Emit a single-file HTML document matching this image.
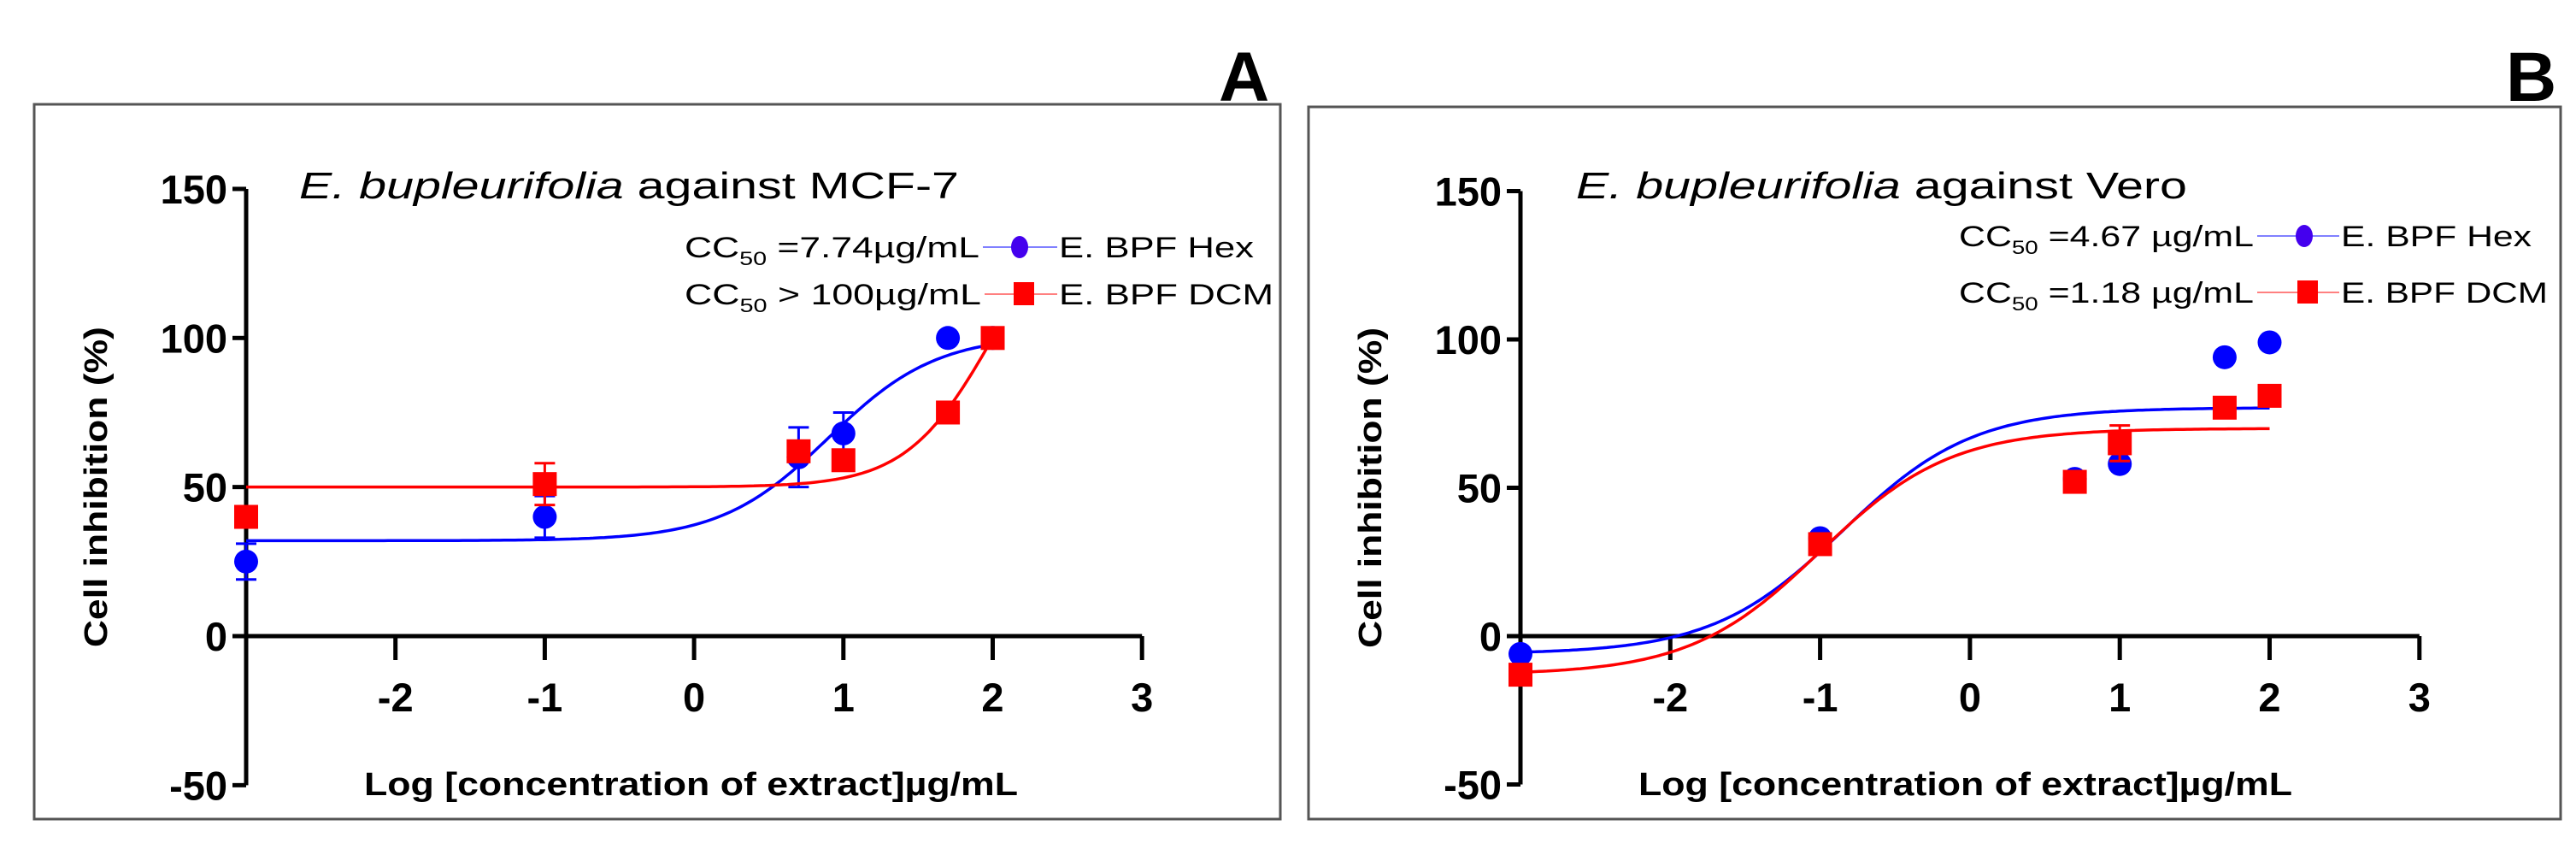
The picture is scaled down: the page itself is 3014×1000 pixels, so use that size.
<!DOCTYPE html>
<html><head><meta charset="utf-8"><style>
html,body{margin:0;padding:0;background:#fff}
svg{display:block}
text{font-family:"Liberation Sans",Arial,sans-serif}
</style></head><body>
<svg id="chart" width="3014" height="1000" viewBox="0 0 3014 1000" xmlns="http://www.w3.org/2000/svg"></svg>
<script>
const xTicks = [-2, -1, 0, 1, 2, 3];
const yTicks = [150, 100, 50, 0, -50];
const xsA = [-3, -1, 0.7, 1, 1.7, 2];
const hexA = [25, 40, 60, 68, 100, 100];
const hexAErr = [6, 7, 10, 7, 0, 0];
const dcmA = [40, 51, 62, 59, 75, 100];
const dcmAErr = [0, 7, 3, 3, 0, 0];
const xsB = [-3, -1, 0.7, 1, 1.7, 2];
const hexB = [-6, 33, 53, 58, 94, 99];
const hexBErr = [0, 0, 0, 0, 0, 0];
const dcmB = [-13, 31, 52, 65, 77, 81];
const dcmBErr = [0, 0, 0, 6, 0, 0];
// fit params: bottom, top, logEC50, hill
const fitHexA = [32, 101, 0.9, 1.2];
const fitDcmA = [50, 150, 2.0, 1.5];
const fitHexB = [-6, 77, -0.85, 1.0];
const fitDcmB = [-13, 70, -1.0, 1.0];

const NS = 'http://www.w3.org/2000/svg';
const svg = document.getElementById('chart');
function mk(tag, attrs, parent, text) {
  const e = document.createElementNS(NS, tag);
  for (const k in attrs) e.setAttribute(k, attrs[k]);
  if (text !== undefined) e.textContent = text;
  (parent || svg).appendChild(e);
  return e;
}
function sig(p, x) { return p[0] + (p[1] - p[0]) / (1 + Math.pow(10, (p[2] - x) * p[3])); }

function panel(o) {
  const g = mk('g', {});
  
  
  const X = v => o.x0 + (v + 3) * o.ux;
  const Y = v => o.y0 - v * o.uy;
  const box = mk('rect', {x: o.bx, y: o.by, width: o.bw, height: o.bh, fill: 'none', stroke: '#555', 'stroke-width': 3}, g);
  
  
  const lt = mk('text', {x: o.letterX, y: 118, 'font-size': 82, 'font-weight': 'bold'}, g, o.letter);
  
  
  const ya = mk('line', {x1: o.x0, y1: Y(150), x2: o.x0, y2: Y(-50), stroke: '#000', 'stroke-width': 5}, g);
  
  
  yTicks.forEach(t => {
    mk('line', {x1: o.x0 - 16, y1: Y(t), x2: o.x0, y2: Y(t), stroke: '#000', 'stroke-width': 5}, g);
    const tl = mk('text', {x: o.x0 - 22, y: Y(t) + 17, 'font-size': 47, 'font-weight': 'bold', 'text-anchor': 'end'}, g, String(t));
    
    
  });
  const xa = mk('line', {x1: X(-3), y1: Y(0), x2: X(3), y2: Y(0), stroke: '#000', 'stroke-width': 5}, g);
  
  
  xTicks.forEach(t => {
    mk('line', {x1: X(t), y1: Y(0), x2: X(t), y2: Y(0) + 28, stroke: '#000', 'stroke-width': 5}, g);
    const tl = mk('text', {x: X(t), y: Y(0) + 88, 'font-size': 47, 'font-weight': 'bold', 'text-anchor': 'middle'}, g, String(t));
    
    
  });
  const yt = mk('text', {x: 0, y: 0, 'font-size': 38, 'font-weight': 'bold', 'text-anchor': 'middle', textLength: 375, lengthAdjust: 'spacingAndGlyphs', transform: `translate(${o.x0 - 163},${Y(50)}) rotate(-90)`}, g, 'Cell inhibition (%)');
  
  
  const xt = mk('text', {x: o.x0 + 138, y: 930, 'font-size': 38, 'font-weight': 'bold', textLength: 765, lengthAdjust: 'spacingAndGlyphs'}, g, 'Log [concentration of extract]µg/mL');
  
  
  const ti = mk('text', {x: o.titleX, y: 232, 'font-size': 44, textLength: o.titleW, lengthAdjust: 'spacingAndGlyphs'}, g);
  
  
  mk('tspan', {'font-style': 'italic'}, ti, 'E. bupleurifolia');
  mk('tspan', {}, ti, ' against ' + o.cell);
  [[o.hex, o.hexErr, o.fitHex, '#0000ff', 'circle', 'series-hex'], [o.dcm, o.dcmErr, o.fitDcm, '#ff0000', 'square', 'series-dcm']].forEach(s => {
    const [vals, errs, fit, col, shape, nm] = s;
    const sg = mk('g', {}, g);
    
    
    let d = '';
    for (let i = 0; i <= 200; i++) {
      const xv = -3 + 5 * i / 200;
      d += (i ? 'L' : 'M') + X(xv).toFixed(1) + ',' + Y(sig(fit, xv)).toFixed(1);
    }
    const c = mk('path', {d, fill: 'none', stroke: col, 'stroke-width': 3.5}, sg);
    
    
    o.xs.forEach((xv, i) => {
      const cx = X(xv), cy = Y(vals[i]);
      if (errs[i] > 0) {
        const e1 = Y(vals[i] + errs[i]), e2 = Y(vals[i] - errs[i]);
        mk('path', {d: `M${cx},${e1}V${e2}M${cx - 12},${e1}H${cx + 12}M${cx - 12},${e2}H${cx + 12}`, stroke: col, 'stroke-width': 3, fill: 'none'}, sg);
      }
      const m = shape === 'circle'
        ? mk('ellipse', {cx, cy, rx: 14, ry: 14, fill: col}, sg)
        : mk('rect', {x: cx - 14, y: cy - 14, width: 28, height: 28, fill: col}, sg);
      
      
    });
  });
  const lg = mk('g', {}, g);
  
  
  o.leg.forEach((L, i) => {
    const by = L.y;
    const t = mk('text', {x: L.x, y: by, 'font-size': 34, textLength: L.tw, lengthAdjust: 'spacingAndGlyphs'}, lg);
    
    
    mk('tspan', {}, t, 'CC');
    mk('tspan', {'font-size': 22, dy: 9}, t, '50');
    mk('tspan', {dy: -9}, t, L.txt);
    mk('line', {x1: L.x + L.tw + 4, y1: by - 12, x2: L.nx - 2, y2: by - 12, stroke: i ? '#ff8080' : '#8080ff', 'stroke-width': 2}, lg);
    if (i === 0) mk('ellipse', {cx: L.mx, cy: by - 12, rx: 10, ry: 13, fill: '#4400ee'}, lg);
    else mk('rect', {x: L.mx - 12, y: by - 26, width: 24, height: 27, fill: '#ff0000'}, lg);
    const n = mk('text', {x: L.nx, y: by, 'font-size': 34, textLength: L.nw, lengthAdjust: 'spacingAndGlyphs'}, lg, L.name);
    
    
  });
}

panel({name: 'panel-a-mcf7', letter: 'A', letterX: 1426, bx: 40, by: 122, bw: 1458, bh: 836,
  x0: 288, y0: 744, ux: 174.7, uy: 3.487, titleX: 350, titleW: 772, cell: 'MCF-7',
  xs: xsA, hex: hexA, hexErr: hexAErr, dcm: dcmA, dcmErr: dcmAErr, fitHex: fitHexA, fitDcm: fitDcmA,
  leg: [{x: 801, y: 301, tw: 345, txt: ' =7.74µg/mL', mx: 1193, nx: 1239, nw: 228, name: 'E. BPF Hex'},
        {x: 801, y: 356, tw: 347, txt: ' > 100µg/mL', mx: 1198, nx: 1239, nw: 251, name: 'E. BPF DCM'}]});
panel({name: 'panel-b-vero', letter: 'B', letterX: 2932, bx: 1531, by: 125, bw: 1465, bh: 833,
  x0: 1779, y0: 744, ux: 175.3, uy: 3.47, titleX: 1844, titleW: 715, cell: 'Vero',
  xs: xsB, hex: hexB, hexErr: hexBErr, dcm: dcmB, dcmErr: dcmBErr, fitHex: fitHexB, fitDcm: fitDcmB,
  leg: [{x: 2292, y: 288, tw: 345, txt: ' =4.67 µg/mL', mx: 2696, nx: 2739, nw: 223, name: 'E. BPF Hex'},
        {x: 2292, y: 354, tw: 345, txt: ' =1.18 µg/mL', mx: 2700, nx: 2739, nw: 242, name: 'E. BPF DCM'}]});
</script>
</body></html>
